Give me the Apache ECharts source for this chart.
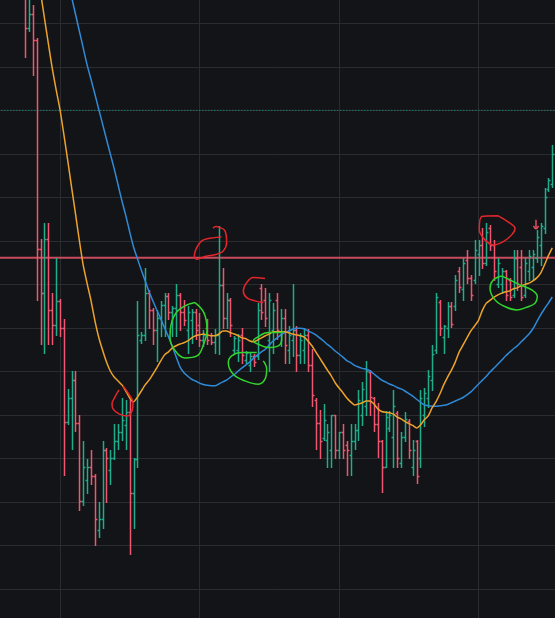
<!DOCTYPE html>
<html>
<head>
<meta charset="utf-8">
<script src="https://cdn.jsdelivr.net/npm/echarts/dist/echarts.min.js"></script>
<style>
html,body{margin:0;padding:0;background:#131417;}
#chart{width:555px;height:618px;}
</style>
</head>
<body>
<div id="chart"></div>
<script>
// ---- DATA ----
const opens = [
147.7,139.0,142.2,136.2,88.2,78.0,90.5,74.1,70.7,76.2,
70.0,48.4,53.9,58.0,48.2,30.2,35.1,38.0,36.0,23.6,
26.1,42.0,37.4,40.1,44.0,46.1,47.7,50.7,32.1,39.9,
67.2,68.4,78.0,74.1,69.5,72.3,75.3,77.4,73.7,74.6,
77.6,73.7,
69.5,71.8,73.7,70.7,67.2,70.0,68.4,66.8,68.4,79.9,
72.3,76.4,64.9,64.9,68.4,62.6,61.5,63.6,63.6,79.2,
76.4,67.2,69.5,76.4,68.4,72.3,64.9,67.2,69.5,63.8,
64.9,68.4,61.5,53.4,48.2,44.7,44.3,42.0,50.0,42.0,
46.1,43.2,40.9,44.0,46.6,50.0,52.0,
59.8,54.0,48.0,44.0,38.1,47.0,45.0,50.5,39.0,45.0,
48.5,38.0,44.0,40.0,50.0,54.0,58.0,65.0,76.0,68.0,
70.0,75.0,75.0,83.0,79.0,85.5,81.5,81.0,87.0,89.0,
85.0,93.0,89.0,80.0,80.0,83.0,81.0,77.5,86.0,84.0,
77.5,83.0,84.0,86.0,89.0,93.0,102.0,103.0
];
const closes = [
139.0,142.2,136.2,88.2,78.0,90.5,74.1,70.7,76.2,70.0,
48.4,53.9,58.0,48.2,30.2,38.0,38.0,36.0,26.1,26.1,
42.0,40.1,40.1,44.0,46.1,48.9,50.7,32.1,39.9,68.4,
68.4,78.0,74.1,69.5,72.3,75.3,77.4,73.7,74.6,77.6,
73.7,71.8,
73.7,73.7,69.5,67.2,68.4,67.2,66.8,68.4,79.9,72.3,
76.4,70.7,67.7,67.2,63.8,64.3,63.6,62.2,74.1,73.7,
72.3,76.4,74.1,69.5,72.3,66.1,68.4,69.5,63.8,67.2,
68.4,61.5,54.6,48.2,44.0,48.9,46.1,50.0,42.0,46.1,
42.0,42.0,44.0,46.6,53.4,56.0,60.0,
54.2,48.0,44.0,38.1,49.5,50.0,52.0,40.0,45.0,49.0,
42.0,42.0,36.0,54.0,55.0,59.0,64.0,77.0,70.0,70.5,
75.0,71.0,81.0,79.5,85.0,81.5,77.5,88.0,89.0,85.0,
92.0,89.0,83.0,85.0,83.0,77.5,77.0,86.0,80.0,77.0,
85.0,86.5,87.0,91.0,93.5,100.0,104.0,110.0
];
const lows = [
132.3,138.3,128.2,76.4,66.3,64.3,66.3,66.3,68.4,68.2,
36.2,47.9,42.2,46.3,28.2,29.3,32.1,34.1,20.1,22.0,
24.0,30.0,34.1,39.9,42.2,44.3,42.2,18.0,24.0,38.0,
66.5,67.2,70.0,66.3,62.4,68.2,68.2,72.1,68.2,68.2,
69.5,70.7,
64.3,66.6,67.5,65.9,65.9,66.3,66.3,64.3,64.0,70.0,
70.0,68.2,64.3,62.4,62.0,62.0,60.1,61.3,62.9,72.1,
70.5,60.1,64.3,67.5,65.9,62.0,62.0,63.6,60.1,62.0,
62.0,60.1,52.1,42.2,40.1,44.3,38.0,38.0,40.1,40.1,
40.1,36.2,36.2,42.2,44.3,47.7,50.0,
50.0,46.3,40.4,32.4,38.1,46.2,38.1,38.1,38.1,44.0,
40.0,36.2,34.3,38.1,47.5,51.9,55.7,64.3,68.4,64.3,
68.0,70.3,74.1,78.3,76.4,80.3,76.4,80.3,82.2,83.8,
84.5,87.9,81.0,79.4,78.0,76.4,76.4,77.0,78.7,76.4,
77.0,81.0,81.0,85.2,84.5,91.8,101.5,102.4
];
const highs = [
150.0,146.6,144.3,136.7,90.5,94.1,94.1,78.0,86.1,76.7,
72.1,56.0,60.1,60.1,50.0,44.0,39.9,41.9,36.4,30.0,
44.0,42.4,42.0,47.9,47.9,53.9,53.4,53.7,40.1,76.2,
69.0,83.8,78.7,74.6,74.1,76.2,78.0,78.0,75.1,80.1,
78.0,76.4,
75.1,74.4,74.4,73.5,69.5,72.1,68.9,69.8,93.4,83.8,
78.0,76.9,68.2,68.6,70.0,64.7,64.3,64.0,75.7,80.1,
79.2,78.0,75.7,78.0,74.4,74.4,70.5,80.1,70.5,68.9,
70.0,69.8,65.2,53.9,51.1,52.5,47.9,50.0,50.0,46.1,
47.9,44.0,47.9,47.9,55.7,57.5,62.3,
60.3,54.2,52.8,44.3,50.8,50.8,55.7,51.0,46.1,50.7,
49.0,44.3,44.3,55.7,56.2,60.3,66.1,78.0,76.5,70.7,
76.0,76.0,82.2,84.1,86.1,87.9,82.2,90.2,90.2,93.0,
94.1,93.7,90.2,86.1,83.8,83.3,81.5,87.9,87.9,87.9,
86.1,87.9,87.9,92.5,94.1,102.2,104.5,112.1
];
// moving averages (yellow = fast, blue = slow)
const maFast = [
170.7,164.7,158.7,153.0,147.2,141.3,135.5,129.8,124.9,120.3,
114.6,108.6,102.4,96.4,90.2,84.5,80.3,76.4,71.8,67.9,
64.9,62.2,60.1,58.7,57.8,56.9,55.5,53.9,53.0,54.1,
55.5,56.9,58.0,59.4,60.8,62.4,63.8,64.5,65.4,65.9,
66.3,66.6,67.0,67.7,68.2,68.4,68.6,68.4,68.2,68.2,
68.6,69.3,69.3,68.9,68.6,68.2,67.7,67.5,67.0,66.8,
67.2,67.7,68.2,68.6,69.1,69.1,69.1,69.1,68.9,68.6,
68.4,68.2,67.9,67.0,65.9,64.5,63.1,61.7,60.3,59.0,
57.4,56.2,55.1,53.9,53.0,52.3,52.5,52.8,53.2,53.2,
52.5,51.4,50.8,50.6,50.5,50.2,49.5,49.1,48.5,48.0,
47.6,47.0,47.7,48.9,49.8,51.6,53.0,54.8,56.9,58.7,
60.3,62.2,64.5,66.1,67.7,69.3,70.5,71.8,74.1,75.7,
76.4,77.1,77.6,78.0,78.3,78.5,79.0,79.2,79.7,80.0,
80.3,80.8,81.5,82.6,84.5,86.6,88.4
];
const maSlow = [
193.2,189.3,185.4,181.5,177.6,173.7,169.8,165.9,162.0,158.1,
153.9,150.0,146.1,142.2,138.3,134.4,130.5,127.2,123.8,120.3,
116.9,113.4,110.0,106.6,102.9,99.2,95.8,92.1,88.6,85.9,
83.3,80.8,78.3,76.2,74.1,72.1,70.0,68.0,65.7,63.3,
61.0,59.7,58.9,58.2,57.8,57.3,57.0,56.8,56.7,56.7,
57.1,57.6,58.0,58.7,59.3,60.1,60.8,61.5,62.2,63.1,
63.8,64.5,65.1,66.1,67.0,67.7,68.4,68.9,69.3,69.7,
69.9,69.9,69.8,69.3,68.9,68.4,67.7,67.0,66.2,65.5,
64.7,64.0,63.3,62.5,62.0,61.4,61.0,60.7,60.5,60.1,
59.4,58.7,58.0,57.6,57.1,56.8,56.3,56.0,55.5,54.9,
54.3,53.6,52.9,52.3,52.1,52.0,52.0,52.1,52.2,52.4,
52.8,53.2,53.6,54.0,54.6,55.3,56.2,57.1,58.0,58.9,
59.9,60.8,61.7,62.6,63.6,64.4,65.2,65.9,66.8,67.7,
68.6,69.8,71.4,73.0,74.4,75.7,77.1
];
const resistanceLevel = 86.1;
const dottedLevel = 120;
// hand-drawn annotations, in [bar index, price]
const annoRed1 = [[48.5,92.9],[49.19,93.29],[50.30,93.06],[51.59,92.30],[52.02,89.61],[51.15,87.70],[49.45,86.94],[46.43,86.39],[44.29,85.79],[43.67,86.55],[44.29,88.46],[45.58,90.00],[47.28,90.53],[50.74,90.92]];
const annoRed2 = [[61.90,81.33],[58.89,81.56],[57.18,80.41],[56.31,78.51],[57.18,76.97],[59.32,76.21],[61.47,75.82]];
const annoRed3 = [[25.28,56.67],[26.57,55.06],[27.86,52.76],[27.60,50.92],[26.31,49.77],[24.25,50.23],[22.70,51.38],[22.44,52.53],[23.21,54.14],[24.25,55.75]];
const annoRed4 = [[122.08,95.75],[117.80,95.59],[117.18,92.53],[118.65,90.23],[120.79,89.08],[123.37,89.84],[125.53,91.38],[126.39,92.92],[125.10,94.07],[122.08,95.75]];
const annoArrowStem = [[131.80,94.83],[131.80,92.76]];
const annoArrowHead = [[131.16,93.45],[131.80,92.76],[132.45,93.45]];
const annoGreen1 = [[43.85,75.82],[41.27,75.06],[38.95,73.45],[37.66,70.69],[37.40,67.93],[38.43,65.17],[41.27,63.10],[44.36,63.56],[45.91,65.86],[46.94,69.54],[46.17,73.45],[43.85,75.82]];
const annoGreen2 = [[59.76,64.32],[55.89,64.32],[53.31,63.56],[52.44,62.02],[53.73,59.36],[56.75,57.82],[60.18,57.06],[61.90,58.21],[62.34,60.51],[61.47,62.41]];
const annoGreen3 = [[66.62,69.31],[66.21,68.92],[62.75,68.92],[59.76,67.77],[58.89,67.01],[60.18,66.25],[62.75,65.47],[65.33,65.86],[66.21,67.40],[66.21,68.55]];
const annoGreen4 = [[122.96,81.95],[120.79,81.03],[119.94,79.13],[121.23,76.44],[123.81,74.90],[126.83,74.14],[129.40,74.76],[131.55,75.68],[132.14,77.20],[130.69,78.74],[127.68,79.89],[125.10,81.03],[122.96,81.95]];

// ---- CHART ----
const UP = '#1fae8c', DOWN = '#f0566f', GRIDC = '#2a2c30';
const categories = opens.map((_, i) => 'B' + (i + 1));
const ohlc = opens.map((o, i) => [i, o, closes[i], lows[i], highs[i]]);
const n = opens.length;

function renderBar(params, api) {
  const i = api.value(0);
  const o = api.value(1), c = api.value(2);
  const po = api.coord([i, o]), pc = api.coord([i, c]);
  const pl = api.coord([i, api.value(3)]), ph = api.coord([i, api.value(4)]);
  const band = api.size([1, 0])[0];
  const t = Math.max(1.5, band * 0.5);
  const x = Math.round(po[0]) + 0.5;
  const yo = Math.round(po[1]) + 0.5, yc = Math.round(pc[1]) + 0.5;
  const col = c >= o ? UP : DOWN;
  const mk = () => ({stroke: col, lineWidth: 1.5});
  return {type: 'group', children: [
    {type: 'line', shape: {x1: x, y1: Math.round(ph[1]), x2: x, y2: Math.round(pl[1]) + 1}, style: mk()},
    {type: 'line', shape: {x1: x - t, y1: yo, x2: x, y2: yo}, style: mk()},
    {type: 'line', shape: {x1: x, y1: yc, x2: x + t, y2: yc}, style: mk()}
  ]};
}

function anno(data, color) {
  return {type: 'line', xAxisIndex: 1, yAxisIndex: 0, data: data, smooth: 0.4,
    showSymbol: false, silent: true, z: 10,
    lineStyle: {color: color, width: 1.5}};
}
const RA = '#e3262b', GA = '#31d42f';

const option = {
  animation: false,
  backgroundColor: '#131417',
  grid: [
    {left: 23.06, right: 0.79, top: -20.2, bottom: -14.5, outerBoundsMode: 'none', containLabel: false},
    {left: -79.67, right: -63.18, top: -20.2, bottom: -14.5, outerBoundsMode: 'none', containLabel: false}
  ],
  xAxis: [
    {type: 'category', gridIndex: 0, data: categories, boundaryGap: true, show: false},
    {type: 'value', gridIndex: 0, min: -0.5, max: n - 0.5, show: false},
    {type: 'value', gridIndex: 1, min: 0, max: 5, interval: 1,
      axisLine: {show: false}, axisTick: {show: false}, axisLabel: {show: false},
      splitLine: {show: true, lineStyle: {color: GRIDC, width: 1}}}
  ],
  yAxis: [
    {type: 'value', gridIndex: 0, min: 0, max: 150, show: false},
    {type: 'value', gridIndex: 1, min: 0, max: 150, interval: 10,
      axisLine: {show: false}, axisTick: {show: false}, axisLabel: {show: false},
      splitLine: {show: true, lineStyle: {color: GRIDC, width: 1}}}
  ],
  series: [
    {type: 'line', xAxisIndex: 2, yAxisIndex: 1, data: [[0, dottedLevel], [5, dottedLevel]],
      showSymbol: false, silent: true, z: 1,
      lineStyle: {color: '#1f9e88', width: 1, type: [1, 2]}},
    {type: 'line', xAxisIndex: 2, yAxisIndex: 1, data: [[0, resistanceLevel], [5, resistanceLevel]],
      showSymbol: false, silent: true, z: 1,
      lineStyle: {color: '#c94b5e', width: 2}},
    {type: 'custom', xAxisIndex: 0, yAxisIndex: 0, data: ohlc, renderItem: renderBar,
      encode: {x: 0, y: [1, 2, 3, 4]}, silent: true, z: 3},
    {type: 'line', xAxisIndex: 0, yAxisIndex: 0, data: maSlow, showSymbol: false, smooth: 0.2,
      silent: true, z: 4, lineStyle: {color: '#2f8ad8', width: 1.5}},
    {type: 'line', xAxisIndex: 0, yAxisIndex: 0, data: maFast, showSymbol: false, smooth: 0.2,
      silent: true, z: 4, lineStyle: {color: '#eda22c', width: 1.5}},
    anno(annoRed1, RA), anno(annoRed2, RA), anno(annoRed3, RA), anno(annoRed4, RA),
    anno(annoArrowStem, '#e0505f'), anno(annoArrowHead, '#e0505f'),
    anno(annoGreen1, GA), anno(annoGreen2, GA), anno(annoGreen3, GA), anno(annoGreen4, GA)
  ]
};
const chart = echarts.init(document.getElementById('chart'));
chart.setOption(option);
</script>
</body>
</html>
